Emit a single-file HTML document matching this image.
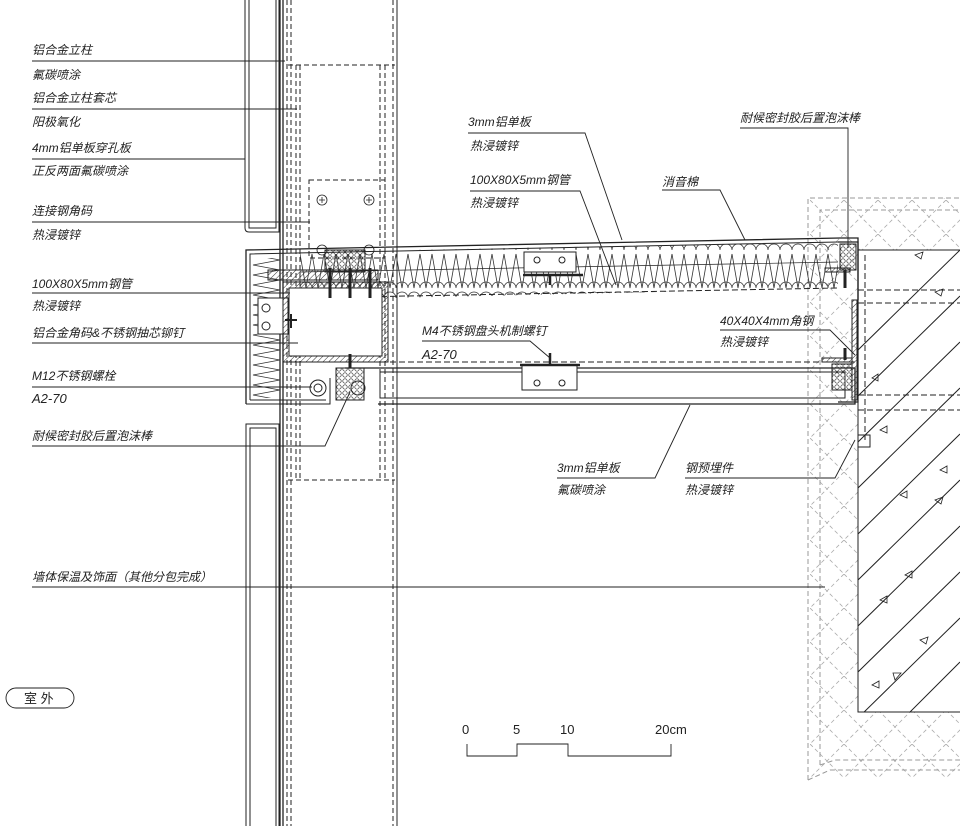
<!DOCTYPE html>
<html><head><meta charset="utf-8"><style>
html,body{margin:0;padding:0;background:#fff;}
svg{display:block;}
text{font-family:"Liberation Sans","Noto Sans CJK SC",sans-serif;font-size:12px;fill:#222;font-style:italic;}
</style></head><body>
<svg width="960" height="826" viewBox="0 0 960 826" xmlns="http://www.w3.org/2000/svg">
<defs>
<pattern id="zig" x="0" y="252" width="12" height="48" patternUnits="userSpaceOnUse">
<path d="M0,2 L6,36 L12,2" fill="none" stroke="#333" stroke-width="0.8"/>
<path d="M0,46 a6,6 0 0 1 12,0 M0,36 a6,6 0 0 1 12,0" fill="none" stroke="#333" stroke-width="0.8"/>
</pattern>
<pattern id="zigv" x="250" y="0" width="30" height="10" patternUnits="userSpaceOnUse">
<path d="M30,0 L3,5 L30,10" fill="none" stroke="#333" stroke-width="0.8"/>
</pattern>
<pattern id="hatch" width="4" height="4" patternUnits="userSpaceOnUse" patternTransform="rotate(45)">
<line x1="0" y1="0" x2="0" y2="4" stroke="#333" stroke-width="1"/>
</pattern>
<pattern id="cross" width="34" height="34" patternUnits="userSpaceOnUse" x="810" y="200">
<path d="M0,0 L34,34 M34,0 L0,34" stroke="#aaa" stroke-width="0.8" stroke-dasharray="4,3" fill="none"/>
</pattern>
<pattern id="rock" width="6" height="6" patternUnits="userSpaceOnUse">
<circle cx="3" cy="3" r="2.2" fill="none" stroke="#333" stroke-width="0.7"/>
</pattern>
</defs>
<g stroke="#222" fill="none" stroke-width="1">
<!-- cross hatched finish -->
<rect x="810" y="198" width="150" height="580" fill="url(#cross)" stroke="none"/>
<path d="M808,780 L808,198 L960,198 M820,765 L820,210 L960,210" stroke="#999" stroke-dasharray="5,3"/>
<path d="M808,780 L830,770 L960,770 M820,765 L835,760 L960,760" stroke="#999" stroke-dasharray="5,3"/>
<!-- concrete -->
<rect x="858" y="250" width="102" height="462" fill="#fff" stroke="none"/>
<path d="M858,250 L858,712 L960,712 M858,250 L960,250"/>
<g clip-path="url(#cc)">
<clipPath id="cc"><rect x="858" y="250" width="102" height="462"/></clipPath>
<path d="M858,350 L960,250 M858,396 L960,296 M858,442 L960,342 M858,488 L960,388 M858,534 L960,434 M858,580 L960,480 M858,626 L960,526 M858,672 L960,572 M858,718 L960,618 M904,718 L960,662"/>
</g>
<g stroke-width="0.8">
<path d="M915,255 l8,-3 -2,7z M935,292 l8,-3 -2,7z M880,430 l7,-4 0,7z M900,495 l7,-4 0,7z M935,500 l8,-3 -2,7z M905,575 l7,-4 0,7z M880,600 l7,-4 0,7z M920,640 l8,-3 -2,7z M872,685 l7,-4 0,7z M895,680 l-2,-7 8,0z M940,470 l7,-4 0,7z M872,378 l6,-4 0,7z"/>
</g>
<path d="M865,255 L865,440 M858,290 L960,290 M858,303 L960,303 M858,395 L960,395 M858,410 L960,410" stroke-dasharray="6,3"/>
<rect x="858" y="435" width="12" height="12"/>
<!-- left panels -->
<path d="M245,0 L245,228 Q245,232 249,232 L279,232 L279,0 M249,0 L249,228 L276,228 L276,0"/>
<path d="M246,826 L246,424 L279,424 L279,826 M250,826 L250,428 L276,428 L276,826"/>
<!-- column lines -->
<path d="M280,0 V826 M283,0 V826" stroke-width="1.3"/>
<path d="M287,0 V826 M291,0 V826 M296,65 V480 M300,65 V480" stroke-dasharray="5,3"/>
<path d="M288,65 L395,65 M380,65 V480 M385,65 V480 M288,480 L395,480" stroke-dasharray="5,3"/>
<path d="M397,0 V826" />
<path d="M393,0 V826" stroke-dasharray="5,3"/>
<rect x="309" y="180" width="76" height="78" stroke-dasharray="5,3"/>
<g stroke-width="0.8">
<circle cx="322" cy="200" r="5"/><circle cx="369" cy="200" r="5"/>
<circle cx="322" cy="250" r="5"/><circle cx="369" cy="250" r="5"/>
<path d="M319,200h6M322,197v6M366,200h6M369,197v6"/>
</g>
<!-- main outer panel -->
<path d="M246,404 L246,250 L840,238 L858,238 L858,300" stroke-width="1.3"/>
<path d="M250,400 L250,254 L838,242" />
<path d="M246,404 L330,404 L330,378 M250,400 L326,400"/>
<!-- insulation top -->
<path d="M300,252 L838,242 L838,288 L300,300 Z" fill="url(#zig)" stroke="none"/>
<path d="M300,300 L300,272 L838,262" stroke-width="0.7"/>
<path d="M300,298 L838,288" stroke-dasharray="6,3"/>
<!-- left insulation -->
<rect x="251" y="258" width="30" height="140" fill="url(#zigv)" stroke="none"/>
<rect x="258" y="298" width="30" height="36" fill="#fff" stroke="#222"/>
<circle cx="266" cy="308" r="4"/><circle cx="266" cy="326" r="4"/>
<!-- steel tube -->
<path d="M283,282 L388,282 L388,362 L283,362 Z" stroke-width="1"/>
<path d="M283,282 h105 v80 h-105 z M289,288 h93 v68 h-93 z" fill="url(#hatch)" fill-rule="evenodd"/>
<rect x="289" y="288" width="93" height="68" fill="#fff"/>
<rect x="268" y="270" width="110" height="10" fill="url(#hatch)"/>
<rect x="325" y="250" width="40" height="22" fill="url(#rock)"/>
<path d="M330,268 v30 M350,268 v30 M370,268 v30" stroke-width="3"/>
<path d="M285,320 h12 M291,314 v14" stroke-width="2"/>
<!-- dashed inner line -->
<path d="M390,362 L855,362" stroke-dasharray="6,3"/>
<!-- bottom panel -->
<path d="M345,368 L855,368 L855,404 L378,404" stroke-width="1.3"/>
<path d="M380,372 L845,372 L845,398 L380,398 Z"/>
<rect x="336" y="368" width="28" height="32" fill="url(#rock)"/>
<circle cx="318" cy="388" r="8"/><circle cx="318" cy="388" r="4"/>
<circle cx="358" cy="388" r="7"/>
<path d="M350,368 v-14" stroke-width="3"/>
<rect x="522" y="365" width="55" height="25" fill="#fff"/>
<circle cx="537" cy="383" r="3"/><circle cx="562" cy="383" r="3"/>
<path d="M520,365 h60" stroke-width="2.5"/><path d="M550,365 v-12" stroke-width="2.5"/>
<rect x="524" y="252" width="52" height="20" fill="#fff"/>
<circle cx="537" cy="260" r="3"/><circle cx="562" cy="260" r="3"/>
<path d="M523,275 h60" stroke-width="2.5"/><path d="M550,275 v10" stroke-width="2.5"/>
<!-- right side angle -->
<path d="M838,242 L858,242 L858,402 L838,402" stroke-width="1.2"/>
<rect x="840" y="244" width="16" height="26" fill="url(#rock)"/>
<rect x="832" y="364" width="20" height="26" fill="url(#rock)"/>
<rect x="825" y="268" width="25" height="4" fill="url(#hatch)"/>
<rect x="822" y="358" width="30" height="4" fill="url(#hatch)"/>
<rect x="852" y="300" width="5" height="100" fill="url(#hatch)"/>
<path d="M845,270 v18 M845,360 v-12" stroke-width="3"/>
<!-- leaders left -->
<g stroke-width="0.9">
<path d="M32,61 H285 M32,109 H297 M32,159 H245 M32,222 H310 M32,293 H290 M32,343 H298 M32,387 H312"/>
<path d="M32,446 H325 L350,392"/>
<path d="M32,587 H825"/>
<!-- right leaders -->
<path d="M468,133 H585 L622,240 M470,191 H580 L616,285 M662,190 H720 L745,240 M740,128 H848 V248"/>
<path d="M720,330 H830 L855,355 M422,341 H530 L550,358"/>
<path d="M557,478 H655 L690,405 M685,478 H835 L855,440"/>
<!-- scale -->
<path d="M467,744 V756 H517 V744 H568 V756 H671 V744"/>
<!-- oval -->
<path d="M16,688 H64 A10,10 0 0 1 64,708 H16 A10,10 0 0 1 16,688 Z"/>
</g>
</g>
<text x="32" y="54">铝合金立柱</text>
<text x="32" y="79">氟碳喷涂</text>
<text x="32" y="102">铝合金立柱套芯</text>
<text x="32" y="126">阳极氧化</text>
<text x="32" y="152">4mm铝单板穿孔板</text>
<text x="32" y="175">正反两面氟碳喷涂</text>
<text x="32" y="215">连接钢角码</text>
<text x="32" y="239">热浸镀锌</text>
<text x="32" y="288">100X80X5mm钢管</text>
<text x="32" y="310">热浸镀锌</text>
<text x="32" y="337">铝合金角码&amp;不锈钢抽芯铆钉</text>
<text x="32" y="380">M12不锈钢螺栓</text>
<text x="32" y="403" style="font-size:13px">A2-70</text>
<text x="32" y="440">耐候密封胶后置泡沫棒</text>
<text x="32" y="581">墙体保温及饰面（其他分包完成）</text>
<text x="24" y="703" style="font-size:13px;font-style:normal">室 外</text>
<text x="468" y="126">3mm铝单板</text>
<text x="470" y="150">热浸镀锌</text>
<text x="470" y="184">100X80X5mm钢管</text>
<text x="470" y="207">热浸镀锌</text>
<text x="662" y="186">消音棉</text>
<text x="740" y="122">耐候密封胶后置泡沫棒</text>
<text x="720" y="325">40X40X4mm角钢</text>
<text x="720" y="346">热浸镀锌</text>
<text x="422" y="335">M4不锈钢盘头机制螺钉</text>
<text x="422" y="359" style="font-size:13px">A2-70</text>
<text x="557" y="472">3mm铝单板</text>
<text x="557" y="494">氟碳喷涂</text>
<text x="685" y="472">钢预埋件</text>
<text x="685" y="494">热浸镀锌</text>
<text x="462" y="734" style="font-style:normal;font-size:13px">0</text>
<text x="513" y="734" style="font-style:normal;font-size:13px">5</text>
<text x="560" y="734" style="font-style:normal;font-size:13px">10</text>
<text x="655" y="734" style="font-style:normal;font-size:13px">20cm</text>
</svg>
</body></html>
